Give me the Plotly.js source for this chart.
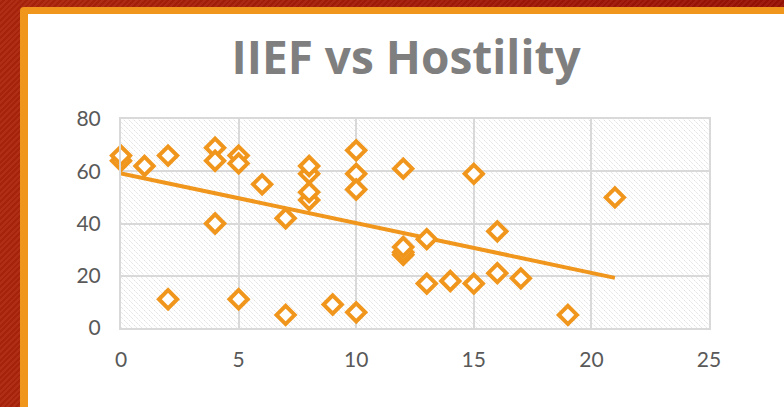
<!DOCTYPE html>
<html><head><meta charset="utf-8">
<script src="https://cdn.plot.ly/plotly-3.0.1.min.js"></script>
<style>
html,body{margin:0;padding:0;width:784px;height:407px;overflow:hidden;}
body{background:
  repeating-linear-gradient(135deg, rgba(255,255,255,0.04) 0 2px, rgba(0,0,0,0.05) 2px 4px),
  linear-gradient(90deg,#ad250b,#9a1206);}
#frame{position:absolute;left:20px;top:7px;width:800px;height:420px;background:#F0961C;border-top-left-radius:4px;}
#chart{position:absolute;left:28px;top:14px;width:756px;height:393px;background:#fff;}
</style></head>
<body>
<div id="frame"></div>
<div id="chart"></div>
<script>
const hostility = [0,0,1,2,2,4,4,4,5,5,5,6,7,7,8,8,8,8,9,10,10,10,10,12,12,12,12,13,13,14,15,15,16,16,17,19,21];
const iief      = [64,66,62,66,11,69,64,40,66,63,11,55,42,5,49,52,59,62,9,68,59,53,6,61,28,29,31,34,17,18,59,17,37,21,19,5,50];
const trendX = [0, 21];
const trendY = [59.2, 19.2];
const xTicks = [0,5,10,15,20,25];
const yTicks = [0,20,40,60,80];

const orange = '#F0961C';
const gd = document.getElementById('chart');

const data = [
  {x: trendX, y: trendY, type:'scatter', mode:'lines', line:{color:orange, width:4}, hoverinfo:'skip', showlegend:false, cliponaxis:false},
  {x: hostility, y: iief, type:'scatter', mode:'markers', cliponaxis:false,
   marker:{symbol:'diamond', size:14, color:'#ffffff', line:{color:orange, width:4}}, showlegend:false}
];

const axisCommon = {
  showgrid:true, gridcolor:'#d9d9d9', gridwidth:2, zeroline:false,
  showline:true, mirror:true, linecolor:'#d9d9d9', linewidth:2,
  ticks:'', tickfont:{family:'Lato, Open Sans, sans-serif', size:21, color:'#595959'},
  fixedrange:true
};

const layout = {
  width:756, height:393,
  margin:{l:93, r:75, t:105, b:79},
  paper_bgcolor:'#ffffff', plot_bgcolor:'#fefefe',
  title:{text:'IIEF vs Hostility', x:0.5, xanchor:'center', y:0.889, yanchor:'middle', yref:'container',
    font:{family:'Open Sans, sans-serif', size:46, color:'#7f7f7f', weight:'bold'}},
  xaxis: Object.assign({}, axisCommon, {range:[0,25], tickvals:xTicks, ticktext:xTicks.map(String), ticklabelstandoff:12}),
  yaxis: Object.assign({}, axisCommon, {range:[0,80], tickvals:yTicks, ticktext:yTicks.map(String), ticklabelstandoff:14}),
  showlegend:false
};

function addPattern(){
  const svg = gd.querySelector('svg.main-svg');
  if(!svg) return;
  const NS = 'http://www.w3.org/2000/svg';
  let defs = svg.querySelector('defs');
  if(!defs){ defs = document.createElementNS(NS,'defs'); svg.insertBefore(defs, svg.firstChild); }
  if(!svg.querySelector('#hatchPat')){
    const p = document.createElementNS(NS,'pattern');
    p.setAttribute('id','hatchPat'); p.setAttribute('patternUnits','userSpaceOnUse');
    p.setAttribute('width','5'); p.setAttribute('height','5');
    const r = document.createElementNS(NS,'rect');
    r.setAttribute('width','5'); r.setAttribute('height','5'); r.setAttribute('fill','#ffffff');
    p.appendChild(r);
    const path = document.createElementNS(NS,'path');
    path.setAttribute('d','M-1,-1 L6,6 M4,-1 L6,1 M-1,4 L1,6');
    path.setAttribute('stroke','#dadada'); path.setAttribute('stroke-width','0.9');
    path.setAttribute('stroke-dasharray','1.6,0.9');
    p.appendChild(path);
    defs.appendChild(p);
  }
  gd.querySelectorAll('rect.bg').forEach(b => { b.style.fill = 'url(#hatchPat)'; });
}

Plotly.newPlot(gd, data, layout, {displayModeBar:false, staticPlot:true}).then(addPattern);
gd.on && gd.on('plotly_afterplot', addPattern);
</script>
</body></html>
